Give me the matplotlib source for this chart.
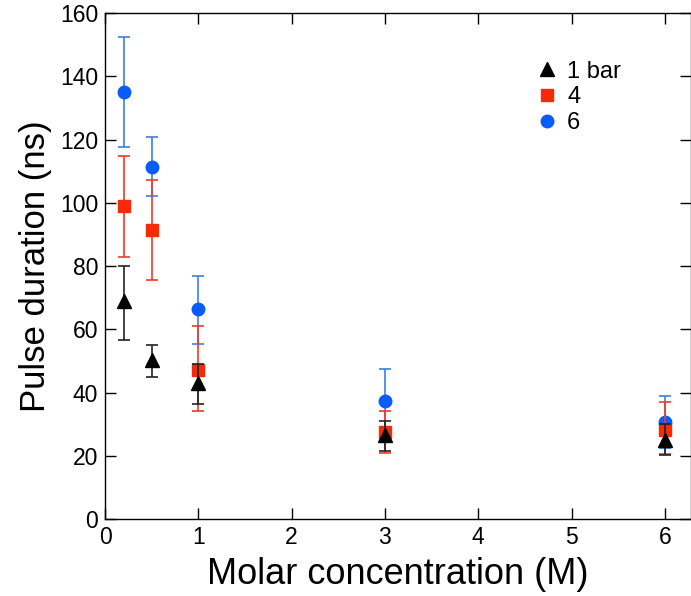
import numpy as np
import matplotlib
matplotlib.use("Agg")
import matplotlib.pyplot as plt

plt.rcParams['font.family'] = ['Liberation Sans', 'DejaVu Sans']

# data
conc = [0.2, 0.5, 1, 3, 6]

bar1 = [69.0, 50.3, 42.9, 26.6, 25.0]
bar1_lo = [56.6, 44.8, 36.4, 21.5, 20.3]
bar1_hi = [80.0, 54.9, 49.0, 31.1, 30.0]

bar4 = [99.0, 91.3, 47.3, 27.6, 28.1]
bar4_lo = [82.9, 75.6, 34.3, 21.0, 20.6]
bar4_hi = [114.8, 107.2, 61.0, 34.1, 37.1]

bar6 = [135.1, 111.4, 66.3, 37.4, 30.6]
bar6_lo = [117.7, 102.1, 55.5, 28.0, 22.5]
bar6_hi = [152.4, 120.9, 76.9, 47.4, 39.0]

series = [
    ("6", bar6, bar6_lo, bar6_hi, 'o', '#0a5cf8', '#3d7fe8'),
    ("4", bar4, bar4_lo, bar4_hi, 's', '#f52a0a', '#f03a2a'),
    ("1 bar", bar1, bar1_lo, bar1_hi, '^', 'black', '#222222'),
]

fig = plt.figure(figsize=(6.91, 5.96), dpi=100)
ax = fig.add_axes([0.152, 0.129, 0.848, 0.849])

handles = {}
for label, y, lo, hi, mk, col, ecol in series:
    y = np.array(y)
    err = [y - np.array(lo), np.array(hi) - y]
    ax.errorbar(conc, y, yerr=err, fmt='none', ecolor=ecol, elinewidth=1.2,
                capsize=4.5, capthick=1.2)
    h, = ax.plot(conc, y, mk, color=col, markersize=9 if mk != '^' else 10,
                 linestyle='none', label=label)
    handles[label] = h

ax.legend([handles["1 bar"], handles["4"], handles["6"]], ["1 bar", "4", "6"],
          loc='upper left', bbox_to_anchor=(0.688, 0.948), frameon=False,
          fontsize=17, handletextpad=0.1, labelspacing=0.16, handlelength=1.5)

ax.set_xlim(0, 6.28)
ax.set_ylim(0, 160)
ax.set_xticks(range(0, 7))
ax.set_yticks(range(0, 161, 20))
ax.tick_params(direction='in', top=True, right=True, length=8, width=1,
               labelsize=16.5, pad=5)
for s in ax.spines.values():
    s.set_linewidth(1)

ax.set_xlabel("Molar concentration (M)", fontsize=26, labelpad=6)
ax.set_ylabel("Pulse duration (ns)", fontsize=25, labelpad=6)

fig.savefig("out.png", dpi=100)
